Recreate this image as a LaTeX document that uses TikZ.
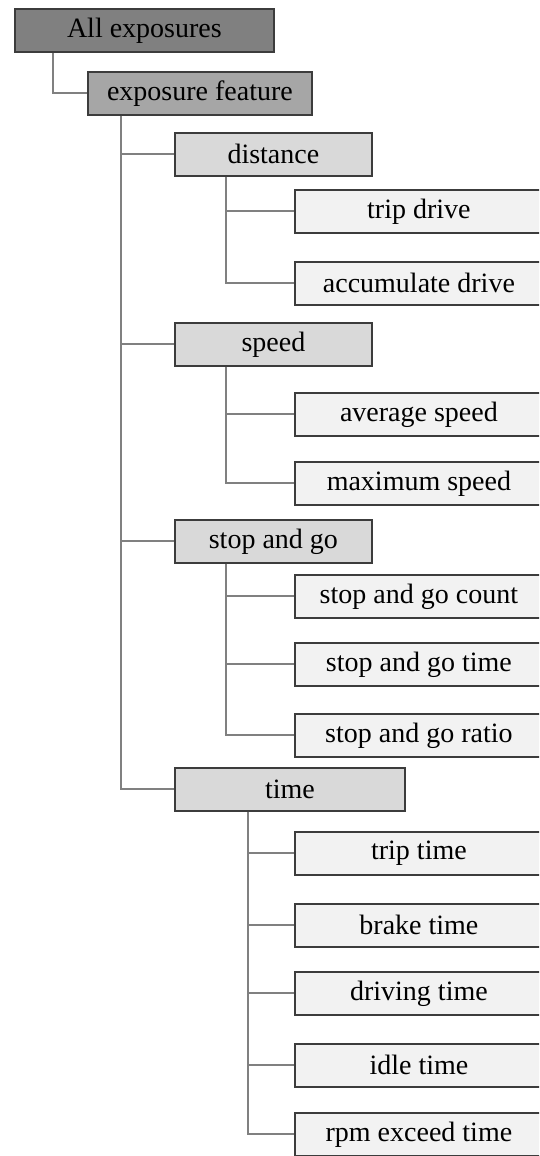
\documentclass[tikz,border=0pt]{standalone}
\usepackage{fontspec}
\setmainfont{Liberation Serif}
\usetikzlibrary{positioning}

\definecolor{rootgray}{HTML}{808080}
\definecolor{featgray}{HTML}{A6A6A6}
\definecolor{groupgray}{HTML}{D9D9D9}
\definecolor{leafgray}{HTML}{F2F2F2}
\definecolor{boxline}{HTML}{3C3C3C}
\definecolor{linkgray}{HTML}{808080}

\begin{document}
\begin{tikzpicture}[x=1pt,y=-1pt,
		box/.style={draw=boxline,line width=1.8pt,minimum height=43pt,inner sep=0pt,
			anchor=north west,font=\fontsize{28}{32}\selectfont},
		root node/.style={box,fill=rootgray,minimum width=259pt},
		feat node/.style={box,fill=featgray,minimum width=224pt},
		group node/.style={box,fill=groupgray,minimum width=197pt},
		leaf node/.style={box,fill=leafgray,minimum width=248pt},
		link/.style={draw=linkgray,line width=2pt}]
	\clip (0,0) rectangle (539,1156);
	\node[root node] (root) at (14,8) {All exposures};
	\node[feat node] (feat) at (87,71) {exposure feature};
	%
	% Distance group.
	\node[group node] (dist) at (174,132) {distance};
	\node[leaf node] (trip) at (294,189) {trip drive};
	\node[leaf node] (accum) at (294,261) {accumulate drive};
	%
	% Speed group.
	\node[group node] (speed) at (174,322) {speed};
	\node[leaf node] (avg) at (294,392) {average speed};
	\node[leaf node] (maxsp) at (294,461) {maximum speed};
	%
	% Stop and go group.
	\node[group node] (sg) at (174,519) {stop and go};
	\node[leaf node] (sgcount) at (294,574) {stop and go count};
	\node[leaf node] (sgtime) at (294,642) {stop and go time};
	\node[leaf node] (sgratio) at (294,713) {stop and go ratio};
	%
	% Time group.
	\node[group node,minimum width=230pt] (time) at (174,767) {time};
	\node[leaf node] (triptime) at (294,831) {trip time};
	\node[leaf node] (brake) at (294,903) {brake time};
	\node[leaf node] (driving) at (294,971) {driving time};
	\node[leaf node] (idle) at (294,1043) {idle time};
	\node[leaf node] (rpm) at (294,1112) {rpm exceed time};
	%
	% Tree lines.
	\draw[link] ([xshift=39pt]root.south west) |- (feat.west);
	\draw[link] ([xshift=34pt]feat.south west) |- (dist.west);
	\draw[link] ([xshift=34pt]feat.south west) |- (speed.west);
	\draw[link] ([xshift=34pt]feat.south west) |- (sg.west);
	\draw[link] ([xshift=34pt]feat.south west) |- (time.west);
	\draw[link] ([xshift=52pt]dist.south west) |- (trip.west);
	\draw[link] ([xshift=52pt]dist.south west) |- (accum.west);
	\draw[link] ([xshift=52pt]speed.south west) |- (avg.west);
	\draw[link] ([xshift=52pt]speed.south west) |- (maxsp.west);
	\draw[link] ([xshift=52pt]sg.south west) |- (sgcount.west);
	\draw[link] ([xshift=52pt]sg.south west) |- (sgtime.west);
	\draw[link] ([xshift=52pt]sg.south west) |- (sgratio.west);
	\draw[link] ([xshift=74pt]time.south west) |- (triptime.west);
	\draw[link] ([xshift=74pt]time.south west) |- (brake.west);
	\draw[link] ([xshift=74pt]time.south west) |- (driving.west);
	\draw[link] ([xshift=74pt]time.south west) |- (idle.west);
	\draw[link] ([xshift=74pt]time.south west) |- (rpm.west);
\end{tikzpicture}
\end{document}
